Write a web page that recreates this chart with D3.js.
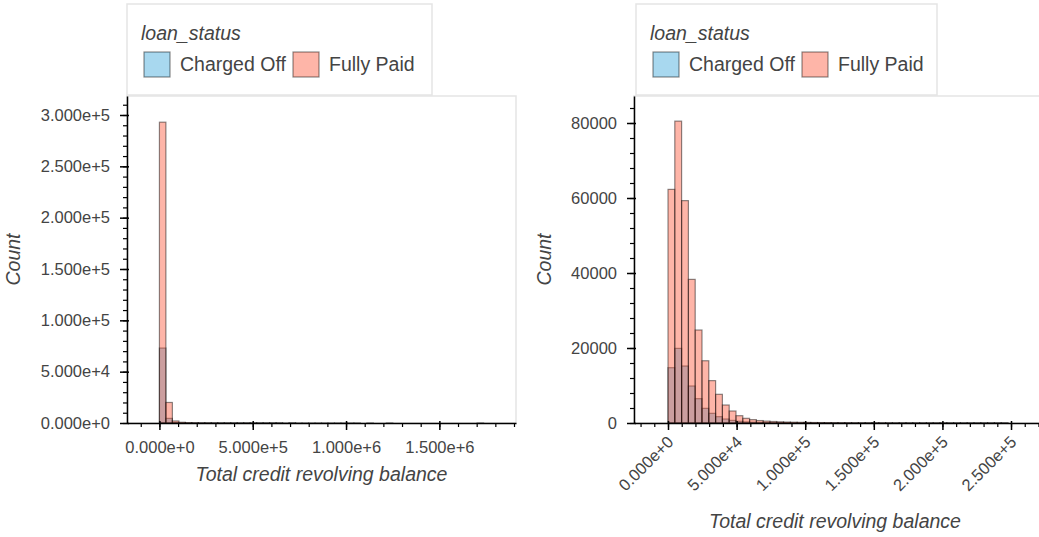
<!DOCTYPE html>
<html>
<head>
<meta charset="utf-8">
<script src="https://cdn.jsdelivr.net/npm/d3@7"></script>
<style>
  body { margin: 0; background: #fff; }
  svg { display: block; font-family: "Liberation Sans", Arial, Helvetica, sans-serif; }
</style>
</head>
<body>
<svg id="chart" width="1039" height="537"></svg>
<script>
// histogram counts, 50 bins each
const statuses = ["Charged Off", "Fully Paid"];
const colors = ["#30a2da", "#fc4f30"];

const allMax = 1737000;
const allChargedOff = [73000, 4500, 500, 150, 70, 40, 25, 15, 10, 7, 5, 4, 3, 2, 2, 1, 1, 1, 1, 0,
  1, 0, 0, 0, 0, 0, 0, 0, 0, 0, 0, 0, 0, 0, 0, 0, 0, 0, 0, 0, 0, 0, 0, 0, 0, 0, 0, 0, 0, 0];
const allFullyPaid = [293000, 20000, 2000, 700, 350, 200, 120, 80, 55, 40, 30, 22, 17, 13, 10, 8, 7, 6, 5, 4,
  3, 3, 2, 2, 2, 1, 1, 1, 1, 1, 1, 0, 1, 0, 0, 1, 0, 0, 0, 0, 0, 0, 0, 0, 0, 0, 0, 0, 0, 1];

const clipMax = 247800;
const clipChargedOff = [14750, 19900, 15200, 9870, 6490, 3910, 2580, 1690, 1070, 700, 450, 300, 200, 150, 115, 90, 72, 58, 47, 39,
  32, 27, 23, 20, 17, 15, 13, 11, 10, 9, 8, 7, 6, 5, 5, 4, 4, 3, 3, 3, 2, 2, 2, 2, 2, 1, 1, 1, 1, 1];
const clipFullyPaid = [62300, 80500, 59300, 38300, 24800, 16600, 11300, 7650, 4800, 3200, 1950, 1250, 900, 650, 500, 400, 320, 260, 215, 180,
  150, 130, 110, 95, 82, 70, 60, 52, 45, 40, 35, 31, 27, 24, 21, 19, 17, 15, 13, 12, 11, 10, 9, 8, 7, 7, 6, 6, 5, 5];

const leftXTicks = [0, 5e5, 1e6, 1.5e6];
const leftYTicks = [0, 5e4, 1e5, 1.5e5, 2e5, 2.5e5, 3e5];
const rightXTicks = [0, 5e4, 1e5, 1.5e5, 2e5, 2.5e5];
const rightYTicks = [0, 20000, 40000, 60000, 80000];

function sci(v) {
  if (v === 0) return "0.000e+0";
  const e = Math.floor(Math.log10(Math.abs(v)));
  return (v / Math.pow(10, e)).toFixed(3) + "e" + (e >= 0 ? "+" : "") + e;
}

const svg = d3.select("#chart");
const textColor = "#444";

const panels = [
  { left: 127, right: 516, top: 96, bottom: 423, max: allMax, data: [allChargedOff, allFullyPaid],
    xDomain: [-173700, 1910700], yDomain: [0, 318500], xTicks: leftXTicks, yTicks: leftYTicks,
    xMinor: 1e5, yMinor: 1e4, fmtX: sci, fmtY: sci, rotate: false,
    legend: { x: 127, w: 305 }, xLabelY: 481, yLabelX: 20 },
  { left: 634, right: 1042, top: 96, bottom: 423, max: clipMax, data: [clipChargedOff, clipFullyPaid],
    xDomain: [-24780, 272580], yDomain: [0, 87200], xTicks: rightXTicks, yTicks: rightYTicks,
    xMinor: 1e4, yMinor: 4000, fmtX: sci, fmtY: d3.format("d"), rotate: true,
    legend: { x: 636, w: 301 }, xLabelY: 528, yLabelX: 551 }
];

panels.forEach((p, i) => {
  const x = d3.scaleLinear().domain(p.xDomain).range([p.left, p.right]);
  const y = d3.scaleLinear().domain(p.yDomain).range([p.bottom, p.top]);
  const g = svg.append("g");

  // plot outline
  g.append("rect")
    .attr("x", p.left).attr("y", p.top)
    .attr("width", p.right - p.left).attr("height", p.bottom - p.top)
    .attr("fill", "none").attr("stroke", "#e5e5e5").attr("stroke-width", 1.5);

  g.append("clipPath").attr("id", "clip" + i)
    .append("rect")
    .attr("x", p.left).attr("y", p.top)
    .attr("width", p.right - p.left).attr("height", p.bottom - p.top);

  const step = p.max / 50;
  const bars = g.append("g").attr("clip-path", `url(#clip${i})`);
  p.data.forEach((counts, s) => {
    bars.append("g").selectAll("rect")
      .data(counts)
      .enter()
      .append("rect")
      .attr("x", (d, k) => x(k * step))
      .attr("width", (d, k) => x((k + 1) * step) - x(k * step))
      .attr("y", d => y(d))
      .attr("height", d => y(0) - y(d))
      .attr("fill", colors[s])
      .attr("fill-opacity", 0.42)
      .attr("stroke", "#000")
      .attr("stroke-opacity", 0.45)
      .attr("stroke-width", 1.2);
  });

  // minor ticks
  const xMinor = d3.range(Math.ceil(p.xDomain[0] / p.xMinor) * p.xMinor, p.xDomain[1], p.xMinor);
  const yMinor = d3.range(0, p.yDomain[1], p.yMinor);
  g.append("g").attr("transform", `translate(0,${p.bottom})`)
    .call(d3.axisBottom(x).tickValues(xMinor).tickSize(4).tickFormat(""))
    .call(a => a.select(".domain").remove())
    .selectAll("line").attr("stroke", "#000").attr("stroke-width", 1.2);
  g.append("g").attr("transform", `translate(${p.left},0)`)
    .call(d3.axisLeft(y).tickValues(yMinor).tickSize(4).tickFormat(""))
    .call(a => a.select(".domain").remove())
    .selectAll("line").attr("stroke", "#000").attr("stroke-width", 1.2);

  // major x axis
  const xa = g.append("g").attr("transform", `translate(0,${p.bottom})`)
    .call(d3.axisBottom(x).tickValues(p.xTicks).tickSizeInner(7).tickSizeOuter(0).tickPadding(11).tickFormat(p.fmtX));
  xa.select(".domain").attr("stroke", "#000").attr("stroke-width", 1.5);
  xa.selectAll(".tick line").attr("y1", -2).attr("stroke", "#000").attr("stroke-width", 1.5);
  xa.selectAll("text").attr("fill", textColor).style("font-size", "16.5px");
  if (p.rotate) {
    xa.selectAll("text")
      .attr("y", 0).attr("dy", "0.35em").attr("x", 0)
      .attr("text-anchor", "end")
      .attr("transform", "translate(2,16) rotate(-45)");
  }

  // major y axis
  const ya = g.append("g").attr("transform", `translate(${p.left},0)`)
    .call(d3.axisLeft(y).tickValues(p.yTicks).tickSizeInner(7).tickSizeOuter(0).tickPadding(10).tickFormat(p.fmtY));
  ya.select(".domain").attr("stroke", "#000").attr("stroke-width", 1.5);
  ya.selectAll(".tick line").attr("x1", 2).attr("stroke", "#000").attr("stroke-width", 1.5);
  ya.selectAll("text").attr("fill", textColor).style("font-size", "16.5px");

  // axis labels
  g.append("text")
    .attr("x", (p.left + p.right - (p.rotate ? 6 : 0)) / 2).attr("y", p.xLabelY)
    .attr("text-anchor", "middle")
    .attr("fill", textColor).style("font-size", "19.5px").style("font-style", "italic")
    .text("Total credit revolving balance");
  g.append("text")
    .attr("transform", `translate(${p.yLabelX},${(p.top + p.bottom) / 2}) rotate(-90)`)
    .attr("text-anchor", "middle")
    .attr("fill", textColor).style("font-size", "19.5px").style("font-style", "italic")
    .text("Count");

  // legend
  const lg = g.append("g").attr("transform", `translate(${p.legend.x},4)`);
  lg.append("rect")
    .attr("width", p.legend.w).attr("height", 91)
    .attr("fill", "#fff").attr("stroke", "#e5e5e5").attr("stroke-width", 1.5);
  lg.append("text")
    .attr("x", 14).attr("y", 36)
    .attr("fill", textColor).style("font-size", "19.5px").style("font-style", "italic")
    .text("loan_status");
  const labelX = [17, 166];
  statuses.forEach((s, k) => {
    lg.append("rect")
      .attr("x", labelX[k]).attr("y", 48)
      .attr("width", 26).attr("height", 25)
      .attr("fill", colors[k]).attr("fill-opacity", 0.42)
      .attr("stroke", "#000").attr("stroke-opacity", 0.45).attr("stroke-width", 1.2);
    lg.append("text")
      .attr("x", labelX[k] + 36).attr("y", 67)
      .attr("fill", textColor).style("font-size", "19.5px")
      .text(s);
  });
});
</script>
</body>
</html>
